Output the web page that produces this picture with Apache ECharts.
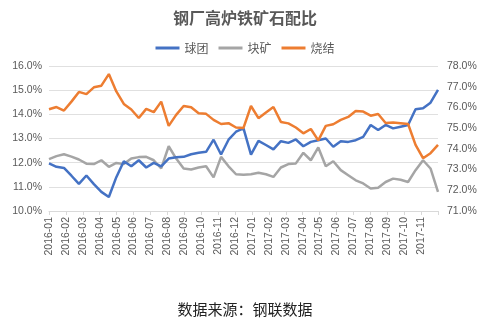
<!DOCTYPE html>
<html><head><meta charset="utf-8">
<script src="https://cdn.jsdelivr.net/npm/echarts@6/dist/echarts.min.js"></script>
<style>html,body{margin:0;padding:0;background:#fff}#c{width:490px;height:322px}</style>
</head><body><div id="c"></div>
<script>
const monthLabels = ['2016-01','2016-02','2016-03','2016-04','2016-05','2016-06','2016-07','2016-08','2016-09','2016-10','2016-11','2016-12','2017-01','2017-02','2017-03','2017-04','2017-05','2017-06','2017-07','2017-08','2017-09','2017-10','2017-11'];
const seriesNames = ['球团','块矿','烧结'];
// 球团 (left axis, %)
const pellet = [11.97,11.83,11.78,11.46,11.12,11.47,11.11,10.79,10.58,11.40,12.06,11.85,12.10,11.80,11.99,11.85,12.17,12.22,12.24,12.35,12.41,12.45,12.95,12.34,12.95,13.28,13.42,12.33,12.90,12.73,12.55,12.89,12.82,12.96,12.68,12.86,12.93,13.00,12.66,12.89,12.86,12.93,13.07,13.56,13.35,13.56,13.42,13.49,13.56,14.21,14.25,14.48,15.01];
// 块矿 (left axis, %)
const lump = [12.15,12.27,12.35,12.25,12.13,11.96,11.94,12.10,11.83,11.99,11.94,12.17,12.23,12.24,12.10,11.76,12.68,12.17,11.76,11.72,11.80,11.85,11.39,12.24,11.85,11.52,11.50,11.52,11.58,11.52,11.41,11.80,11.94,11.97,12.41,12.10,12.63,11.85,12.06,11.69,11.48,11.27,11.14,10.93,10.96,11.20,11.34,11.29,11.20,11.69,12.10,11.76,10.79];
// 烧结 (right axis, %)
const sinter = [75.91,76.02,75.85,76.28,76.75,76.64,76.97,77.05,77.61,76.77,76.17,75.90,75.49,75.93,75.77,76.28,75.11,75.64,76.07,76.01,75.72,75.69,75.40,75.20,75.24,75.03,75.01,76.07,75.48,75.76,76.02,75.30,75.23,75.03,74.75,74.96,74.41,75.11,75.19,75.40,75.54,75.83,75.80,75.60,75.68,75.25,75.27,75.24,75.20,74.19,73.55,73.79,74.19];

const spanMonths = monthLabels.length; // axis runs from first month to the month after the last label
const n = pellet.length;
const pos = i => i * spanMonths / (n - 1);
const pair = arr => arr.map((v, i) => [pos(i), v]);

const chart = echarts.init(document.getElementById('c'));
const lbl = {color:'#595959', fontSize:10.5, fontFamily:'Liberation Sans, Arial, sans-serif'};
chart.setOption({
  animation:false,
  title:[
    {text:'钢厂高炉铁矿石配比', left:'center', top:5,
     textStyle:{fontSize:16, fontWeight:'bold', color:'#595959', fontFamily:'Noto Sans CJK SC'}},
    {text:'数据来源：钢联数据', left:'center', top:297,
     textStyle:{fontSize:15, fontWeight:'normal', color:'#222', fontFamily:'Noto Sans CJK SC'}}
  ],
  legend:{top:37, left:'center', itemWidth:24, itemHeight:3, itemGap:10, icon:'rect',
    textStyle:{color:'#595959', fontSize:12, fontFamily:'Noto Sans CJK SC'},
    data:seriesNames},
  grid:{left:49, right:52, top:66, bottom:111, containLabel:false},
  xAxis:{type:'value', min:0, max:spanMonths, interval:1,
    axisLine:{show:true, lineStyle:{color:'#d9d9d9'}},
    axisTick:{show:true, length:4, lineStyle:{color:'#d9d9d9'}},
    splitLine:{show:false},
    axisLabel:Object.assign({rotate:90, margin:6, showMaxLabel:true, showMinLabel:true,
      formatter:v => monthLabels[Math.round(v)] || ''}, lbl)},
  yAxis:[
    {type:'value', min:10, max:16, interval:1, position:'left',
     axisLine:{show:false}, axisTick:{show:false},
     splitLine:{lineStyle:{color:'#e0e0e0'}},
     axisLabel:Object.assign({formatter:v => v.toFixed(1)+'%', margin:7}, lbl)},
    {type:'value', min:71, max:78, interval:1, position:'right',
     axisLine:{show:false}, axisTick:{show:false}, splitLine:{show:false},
     axisLabel:Object.assign({formatter:v => v.toFixed(1)+'%', margin:9}, lbl)}
  ],
  series:[
    {name:seriesNames[0], type:'line', yAxisIndex:0, data:pair(pellet), showSymbol:false,
     lineStyle:{width:2.5, color:'#4472C4'}, itemStyle:{color:'#4472C4'}, z:3},
    {name:seriesNames[1], type:'line', yAxisIndex:0, data:pair(lump), showSymbol:false,
     lineStyle:{width:2.5, color:'#A5A5A5'}, itemStyle:{color:'#A5A5A5'}, z:2},
    {name:seriesNames[2], type:'line', yAxisIndex:1, data:pair(sinter), showSymbol:false,
     lineStyle:{width:2.5, color:'#ED7D31'}, itemStyle:{color:'#ED7D31'}, z:4}
  ]
});
</script></body></html>
